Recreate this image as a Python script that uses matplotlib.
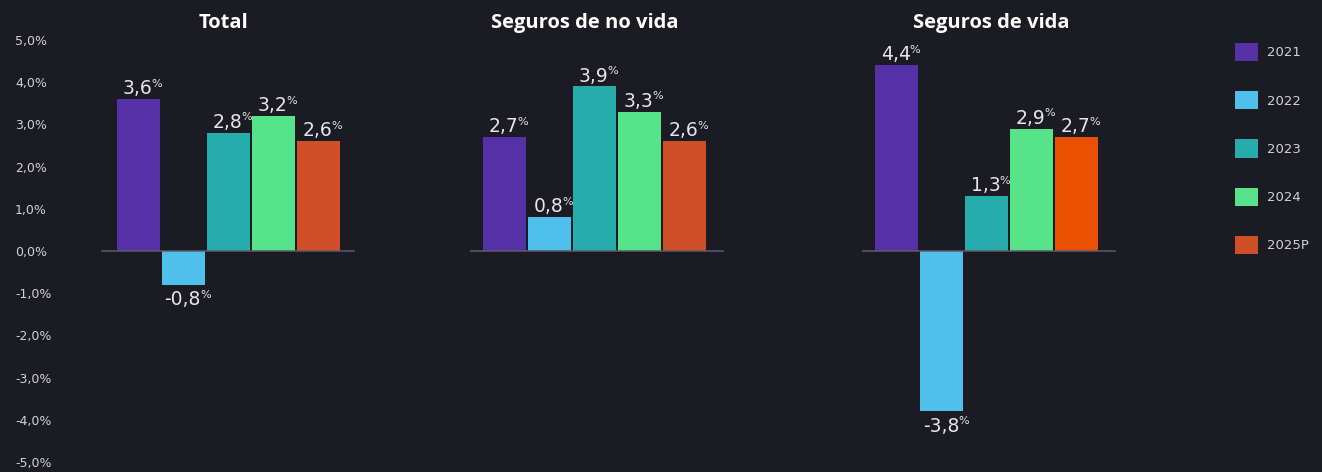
import matplotlib
matplotlib.use('Agg')
import matplotlib.pyplot as plt
from matplotlib.patches import Patch
from matplotlib.transforms import IdentityTransform

# ---- data ----
years = ['2021', '2022', '2023', '2024', '2025P']
panels = ['Total', 'Seguros de no vida', 'Seguros de vida']
total = [3.6, -0.8, 2.8, 3.2, 2.6]
no_vida = [2.7, 0.8, 3.9, 3.3, 2.6]
vida = [4.4, -3.8, 1.3, 2.9, 2.7]
yticks = [5, 4, 3, 2, 1, 0, -1, -2, -3, -4, -5]
ytick_labels = ['5,0%', '4,0%', '3,0%', '2,0%', '1,0%', '0,0%',
                '-1,0%', '-2,0%', '-3,0%', '-4,0%', '-5,0%']

colors = ['#5530A6', '#4FC0EC', '#27ACAC', '#57E38A', '#D04F27']
vida_colors = ['#5530A6', '#4FC0EC', '#27ACAC', '#57E38A', '#EA5000']

# ---- layout ----
W, H = 1322, 472
DPI = 100
bg = '#1B1B24'
txt = '#E6E6E6'
tick_col = '#D2D2D2'
zero_y = 251
ppu = 42.2
lefts = [101, 470, 862]
aw = 254
xlims = [(-0.833, 4.811), (-0.767, 4.878), (-0.767, 4.878)]
title_x = [0.484, 0.453, 0.508]

fig = plt.figure(figsize=(W / DPI, H / DPI), dpi=DPI)
fig.patch.set_facecolor(bg)

series = [total, no_vida, vida]
cols_list = [colors, colors, vida_colors]
num_texts = []
x = list(range(len(years)))

for i, (vals, cols) in enumerate(zip(series, cols_list)):
    ax = fig.add_axes([lefts[i] / W, 0, aw / W, 1])
    ax.set_facecolor('none')
    ax.bar(x, vals, width=0.956, color=cols, zorder=2)
    ax.set_xlim(*xlims[i])
    ax.set_ylim(-(H - zero_y) / ppu, zero_y / ppu)
    ax.axhline(0, color='#5C5C68', lw=1.1, zorder=3)
    for s in ax.spines.values():
        s.set_visible(False)
    ax.set_xticks([])
    if i == 0:
        ax.set_yticks(yticks)
        ax.set_yticklabels(ytick_labels)
        ax.tick_params(axis='y', length=0, pad=(lefts[0] - 15) * 72 / DPI,
                       labelsize=9, labelcolor=tick_col)
        for lbl in ax.get_yticklabels():
            lbl.set_ha('left')
    else:
        ax.set_yticks([])
    ax.text(title_x[i], 1 - 23 / H, panels[i], transform=ax.transAxes,
            ha='center', va='center', fontfamily='Open Sans',
            fontweight='bold', fontsize=14.5, color='white')
    for xi, v in zip(x, vals):
        label = f'{v:.1f}'.replace('.', ',')
        if v >= 0:
            t = ax.annotate(label, xy=(xi, v), xytext=(-0.5, 3.5),
                            textcoords='offset points', ha='center',
                            va='baseline', fontsize=13.5, color=txt,
                            fontfamily='DejaVu Sans')
        else:
            t = ax.annotate(label, xy=(xi, v), xytext=(-0.5, -4),
                            textcoords='offset points', ha='center',
                            va='top', fontsize=13.5, color=txt,
                            fontfamily='DejaVu Sans')
        num_texts.append(t)

# legend
handles = [Patch(facecolor=c, edgecolor='none') for c in colors]
leg = fig.legend(handles, years, loc='upper left',
                 bbox_to_anchor=(1235 / W, 1 - 43 / H),
                 frameon=False, fontsize=9.5, handlelength=1.75,
                 handleheight=1.75, labelspacing=2.27, handletextpad=0.7,
                 borderpad=0, borderaxespad=0)
for t in leg.get_texts():
    t.set_color(tick_col)

# superscript percent signs next to each value label
fig.canvas.draw()
renderer = fig.canvas.get_renderer()
for t in num_texts:
    bb = t.get_window_extent(renderer)
    fig.text(bb.x1 - 1, bb.y1 + 0.5, '%', transform=IdentityTransform(),
             ha='left', va='top', fontsize=8, color=txt,
             fontfamily='DejaVu Sans')

fig.savefig('out.png', dpi=DPI, facecolor=bg)
